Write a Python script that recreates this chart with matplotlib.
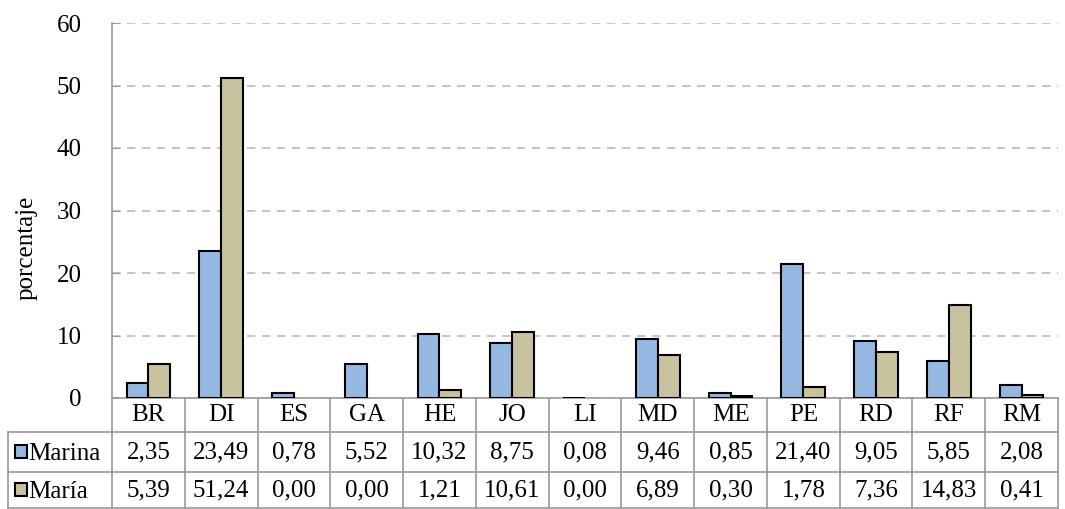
import numpy as np
import matplotlib.pyplot as plt
from matplotlib.patches import Rectangle
from matplotlib.transforms import blended_transform_factory

categories = ['BR', 'DI', 'ES', 'GA', 'HE', 'JO', 'LI', 'MD', 'ME', 'PE', 'RD', 'RF', 'RM']
marina = [2.35, 23.49, 0.78, 5.52, 10.32, 8.75, 0.08, 9.46, 0.85, 21.40, 9.05, 5.85, 2.08]
maria = [5.39, 51.24, 0.00, 0.00, 1.21, 10.61, 0.00, 6.89, 0.30, 1.78, 7.36, 14.83, 0.41]
series_names = ['Marina', 'María']
colors = ['#95B8E3', '#C9C29E']

plt.rcParams['font.family'] = ['Liberation Serif', 'DejaVu Serif']
fs = 18

fig = plt.figure(figsize=(10.65, 5.09), dpi=100)
ax = fig.add_axes([112 / 1065, 1 - 398 / 509, 946 / 1065, 375 / 509])

x = np.arange(len(categories))
w = 0.3
for offs, vals, col in [(-w / 2, marina, colors[0]), (w / 2, maria, colors[1])]:
    bars = ax.bar(x + offs, vals, w, color=col, edgecolor='black', linewidth=1.5, zorder=3)
    for b, v in zip(bars, vals):
        if v == 0:
            b.set_linewidth(0)

ax.set_xlim(-0.5, len(categories) - 0.5)
ax.set_ylim(0, 60)
ax.set_yticks(range(0, 61, 10))
ax.tick_params(axis='y', labelsize=fs, length=6, color='#999999', direction='in', pad=22)
ax.tick_params(axis='x', bottom=False, labelbottom=False)
ax.yaxis.grid(True, linestyle=(0, (5, 4)), color='#BBBBBB', linewidth=1.2, zorder=0)
for s in ['top', 'right', 'bottom']:
    ax.spines[s].set_visible(False)
ax.spines['left'].set_color('#999999')
ax.spines['left'].set_linewidth(1.2)
ax.set_ylabel('porcentaje', fontsize=fs)
ax.yaxis.set_label_coords(-0.079, 0.4)

# data table under the axes
tr = blended_transform_factory(ax.transData, ax.transAxes)
gray = '#999999'
h = 375
y_rows = [0, -34 / h, -74 / h, -110 / h]
x_left = -0.5 - 104 / 72.8
n = len(categories)

ax.plot([-0.5, n - 0.5], [0, 0], color=gray, lw=1.2, transform=tr, clip_on=False, zorder=2)
for yy in y_rows[1:]:
    ax.plot([x_left, n - 0.5], [yy, yy], color=gray, lw=1.2, transform=tr, clip_on=False)
for k in range(n + 1):
    ax.plot([k - 0.5, k - 0.5], [0, y_rows[-1]], color=gray, lw=1.2, transform=tr, clip_on=False)
ax.plot([x_left, x_left], [y_rows[1], y_rows[-1]], color=gray, lw=1.2, transform=tr, clip_on=False)

for i, c in enumerate(categories):
    ax.text(i, (y_rows[0] + y_rows[1]) / 2, c, ha='center', va='center', fontsize=fs, transform=tr)

for r, (vals, name, col) in enumerate(zip([marina, maria], series_names, colors)):
    yc = (y_rows[r + 1] + y_rows[r + 2]) / 2
    for i, v in enumerate(vals):
        ax.text(i, yc, f'{v:.2f}'.replace('.', ','), ha='center', va='center',
                fontsize=fs, transform=tr)
    ax.add_patch(Rectangle((x_left + 0.1, yc - 0.016), 0.16, 0.034, facecolor=col,
                           edgecolor='black', lw=1.5, transform=tr, clip_on=False))
    ax.text(x_left + 0.28, yc - 0.004, name, ha='left', va='center', fontsize=fs, transform=tr)

fig.savefig('out.png', dpi=100)
